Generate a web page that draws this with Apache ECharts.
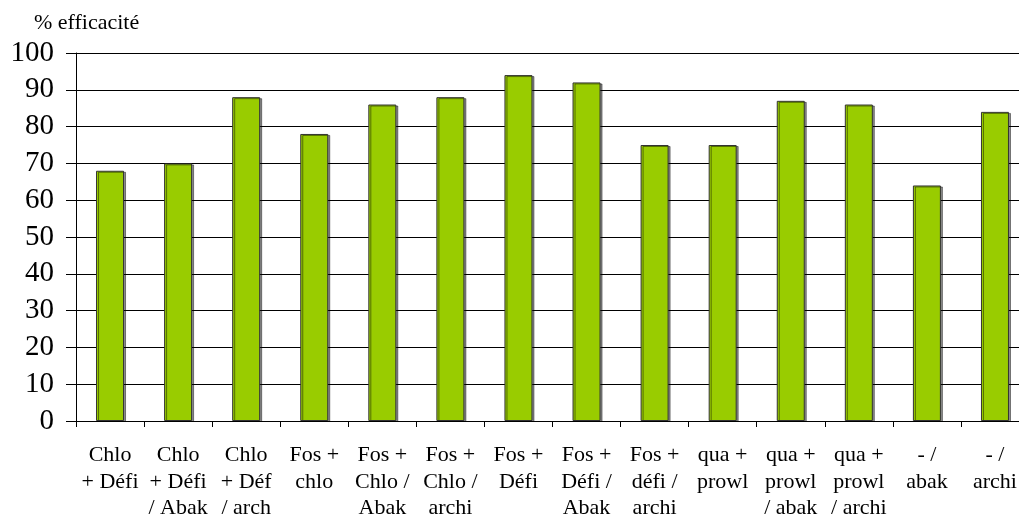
<!DOCTYPE html>
<html>
<head>
<meta charset="utf-8">
<script src="https://cdn.jsdelivr.net/npm/echarts@6/dist/echarts.min.js"></script>
<style>html,body{margin:0;padding:0;background:#fff}#c{width:1019px;height:517px}</style>
</head>
<body>
<div id="c"></div>
<script>
var categories = ["Chlo\n+ Défi", "Chlo\n+ Défi\n/ Abak", "Chlo\n+ Déf\n/ arch", "Fos +\nchlo", "Fos +\nChlo /\nAbak", "Fos +\nChlo /\narchi", "Fos +\nDéfi", "Fos +\nDéfi /\nAbak", "Fos +\ndéfi /\narchi", "qua +\nprowl", "qua +\nprowl\n/ abak", "qua +\nprowl\n/ archi", "- /\nabak", "- /\narchi"];
var efficacite = [68, 70, 88, 78, 86, 88, 94, 92, 75, 75, 87, 86, 64, 84];
var yTicks = {min: 0, max: 100, interval: 10};
var titleText = "% efficacité";

var font = "'Liberation Serif', 'Times New Roman', serif";
var chart = echarts.init(document.getElementById('c'));
chart.setOption({
  animation: false,
  title: {text: titleText, left: 29, top: 7, textStyle: {fontFamily: font, fontSize: 22, fontWeight: 'normal', color: '#000'}},
  grid: {left: 76, right: -10, top: 53, bottom: 96, containLabel: false, outerBoundsMode: 'none'},
  xAxis: {
    type: 'category', data: categories,
    axisLine: {lineStyle: {color: '#000', width: 1}},
    axisTick: {show: true, length: 6, lineStyle: {color: '#000'}},
    axisLabel: {interval: 0, fontFamily: font, fontSize: 22, color: '#000', lineHeight: 26.5, margin: 21, align: 'center'}
  },
  yAxis: {
    type: 'value', min: yTicks.min, max: yTicks.max, interval: yTicks.interval,
    axisLine: {show: true, lineStyle: {color: '#000', width: 1}},
    axisTick: {show: true, length: 10, lineStyle: {color: '#000'}},
    splitLine: {lineStyle: {color: '#000', width: 1}},
    axisLabel: {fontFamily: font, fontSize: 29, color: '#000', margin: 22}
  },
  series: [{
    type: 'bar', data: efficacite, barWidth: 28,
    itemStyle: {color: '#99CC00', borderColor: '#333', borderWidth: 1, shadowColor: 'rgba(0,0,0,0.45)', shadowOffsetX: 2, shadowOffsetY: 1, shadowBlur: 0}
  }]
});
</script>
</body>
</html>
